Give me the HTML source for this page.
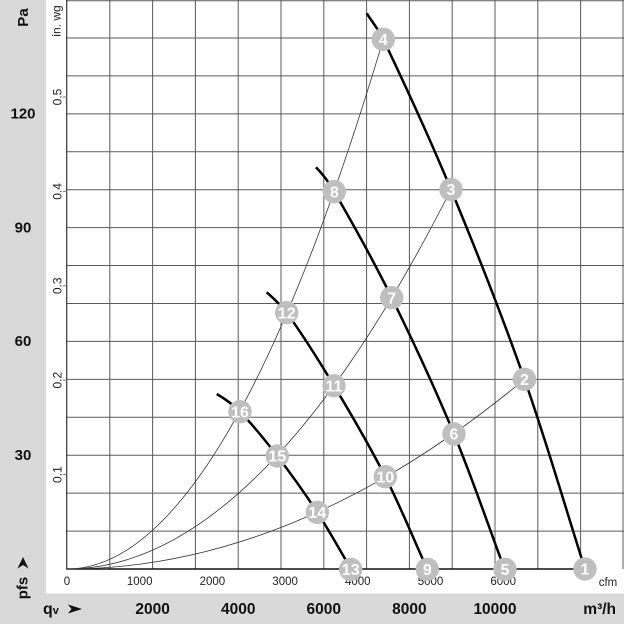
<!DOCTYPE html>
<html><head><meta charset="utf-8"><style>
html,body{margin:0;padding:0;background:#fff;}
svg{display:block;}
text{font-family:"Liberation Sans",Arial,sans-serif;}
</style></head><body>
<svg width="624" height="624" viewBox="0 0 624 624" xmlns="http://www.w3.org/2000/svg">
<rect x="0" y="0" width="624" height="624" fill="#fff"/>
<rect x="0" y="0" width="46" height="624" fill="#d9d9d9"/>
<rect x="0" y="593.5" width="624" height="30.5" fill="#d9d9d9"/>

<g stroke="#5a5a5a" stroke-width="1" fill="none">
<line x1="109.8" y1="0" x2="109.8" y2="569"/>
<line x1="152.6" y1="0" x2="152.6" y2="569"/>
<line x1="195.4" y1="0" x2="195.4" y2="569"/>
<line x1="238.2" y1="0" x2="238.2" y2="569"/>
<line x1="281" y1="0" x2="281" y2="569"/>
<line x1="323.8" y1="0" x2="323.8" y2="569"/>
<line x1="366.6" y1="0" x2="366.6" y2="569"/>
<line x1="409.4" y1="0" x2="409.4" y2="569"/>
<line x1="452.2" y1="0" x2="452.2" y2="569"/>
<line x1="495" y1="0" x2="495" y2="569"/>
<line x1="537.8" y1="0" x2="537.8" y2="569"/>
<line x1="580.6" y1="0" x2="580.6" y2="569"/>
<line x1="623" y1="0" x2="623" y2="569"/>
<line x1="67" y1="531.07" x2="624" y2="531.07"/>
<line x1="67" y1="493.14" x2="624" y2="493.14"/>
<line x1="67" y1="455.21" x2="624" y2="455.21"/>
<line x1="67" y1="417.28" x2="624" y2="417.28"/>
<line x1="67" y1="379.35" x2="624" y2="379.35"/>
<line x1="67" y1="341.42" x2="624" y2="341.42"/>
<line x1="67" y1="303.49" x2="624" y2="303.49"/>
<line x1="67" y1="265.56" x2="624" y2="265.56"/>
<line x1="67" y1="227.63" x2="624" y2="227.63"/>
<line x1="67" y1="189.7" x2="624" y2="189.7"/>
<line x1="67" y1="151.77" x2="624" y2="151.77"/>
<line x1="67" y1="113.84" x2="624" y2="113.84"/>
<line x1="67" y1="75.91" x2="624" y2="75.91"/>
<line x1="67" y1="37.98" x2="624" y2="37.98"/>
<line x1="67" y1="0.8" x2="624" y2="0.8"/>
</g>

<!-- axes -->
<line x1="66.7" y1="0" x2="66.7" y2="569.5" stroke="#333" stroke-width="1.2"/>
<line x1="66.7" y1="569" x2="581" y2="569" stroke="#111" stroke-width="1.5"/>

<!-- left ticks in. wg -->
<g stroke="#777" stroke-width="1">
<line x1="63" y1="474.6" x2="67" y2="474.6"/>
<line x1="63" y1="380.2" x2="67" y2="380.2"/>
<line x1="63" y1="285.8" x2="67" y2="285.8"/>
<line x1="63" y1="191.4" x2="67" y2="191.4"/>
<line x1="63" y1="97" x2="67" y2="97"/>
</g>
<g font-size="12" fill="#222" text-anchor="middle">
<text x="61.5" y="474.6" transform="rotate(-90 61.5 474.6)">0.1</text>
<text x="61.5" y="380.2" transform="rotate(-90 61.5 380.2)">0.2</text>
<text x="61.5" y="285.8" transform="rotate(-90 61.5 285.8)">0.3</text>
<text x="61.5" y="191.4" transform="rotate(-90 61.5 191.4)">0.4</text>
<text x="61.5" y="97" transform="rotate(-90 61.5 97)">0.5</text>
<text x="60.5" y="21" transform="rotate(-90 60.5 21)">in. wg</text>
</g>

<!-- Pa labels -->
<g font-size="15" font-weight="bold" fill="#111" text-anchor="middle">
<text x="28" y="17.5" transform="rotate(-90 28 17.5)">Pa</text>
<text x="23" y="118.5">120</text>
<text x="23" y="232.3">90</text>
<text x="23" y="346.2">60</text>
<text x="23" y="460">30</text>
<text x="27.5" y="588" transform="rotate(-90 27.5 588)">pfs</text>
</g>
<polygon points="23,557 28.5,568.5 23,565 17.5,568.5" fill="#111"/>

<!-- cfm labels -->
<g font-size="11.5" fill="#222" text-anchor="middle">
<text x="67" y="585">0</text>
<text x="139.7" y="585">1000</text>
<text x="212.4" y="585">2000</text>
<text x="285.1" y="585">3000</text>
<text x="357.8" y="585">4000</text>
<text x="430.5" y="585">5000</text>
<text x="503.2" y="585">6000</text>
<text x="608" y="586">cfm</text>
</g>

<!-- m3/h labels -->
<g font-size="15.5" font-weight="bold" fill="#111" text-anchor="middle">
<text x="152.6" y="614">2000</text>
<text x="238.2" y="614">4000</text>
<text x="323.8" y="614">6000</text>
<text x="409.4" y="614">8000</text>
<text x="495" y="614">10000</text>
<text x="616" y="614" text-anchor="end">m³/h</text>
<text x="43" y="614" text-anchor="start" font-size="16">q<tspan font-size="11">v</tspan></text>
</g>
<polygon points="82,609 68,604.5 71.5,609 68,613.5" fill="#111"/>

<!-- system curves -->
<g stroke="#333" stroke-width="0.8" fill="none">
<path d="M67,569 Q225.2,569 383.3,39.3"/>
<path d="M67,569 Q259,569 451,189.5"/>
<path d="M67,569 Q295.75,569 524.5,379.3"/>
</g>

<!-- fan curves -->
<g stroke="#000" stroke-width="2.5" fill="none" stroke-linecap="butt">
<path d="M366.7,13.3 C372.2,22 378.9,30 383.3,39.3 C407,88.9 429.9,138.8 451,189.5 C477,252.1 501.9,315.3 524.5,379.3 C546.6,441.9 564.8,505.8 585,569"/>
<path d="M316,167.3 C323.1,174.6 329.2,182.9 334.3,191.7 C354.5,226.4 373.9,261.7 391.7,297.7 C413.8,342.5 434.8,387.9 454,434 C472.4,478.4 487.7,524 504.5,569"/>
<path d="M266.7,292.3 C273.8,298.6 281.1,305 286.7,312.7 C303.7,336.2 319.1,360.9 334,385.7 C351.9,415.5 369.5,445.7 385.3,476.7 C400.6,506.8 413.2,538.2 427.2,569"/>
<path d="M216.7,394 C225.2,398.9 233.2,404.7 240,411.7 C253.5,425.5 265.5,440.7 277.3,456 C291.3,474.3 304.7,493 317.3,512.3 C329.3,530.7 339.8,550.1 351,569"/>
</g>

<!-- markers -->
<g fill="#bfbfbf">
<circle cx="585" cy="569" r="11.7"/>
<circle cx="524.5" cy="379.3" r="11.7"/>
<circle cx="451" cy="189.5" r="11.7"/>
<circle cx="383.3" cy="39.3" r="11.7"/>
<circle cx="505" cy="569.3" r="11.7"/>
<circle cx="454" cy="434" r="11.7"/>
<circle cx="391.7" cy="297.7" r="11.7"/>
<circle cx="334.3" cy="191.7" r="11.7"/>
<circle cx="427.3" cy="569.3" r="11.7"/>
<circle cx="385.3" cy="476.7" r="11.7"/>
<circle cx="334" cy="385.7" r="11.7"/>
<circle cx="286.7" cy="312.7" r="11.7"/>
<circle cx="350.7" cy="569.3" r="11.7"/>
<circle cx="317.3" cy="512.3" r="11.7"/>
<circle cx="277.3" cy="456" r="11.7"/>
<circle cx="240" cy="411.7" r="11.7"/>
</g>
<g fill="#fff" font-size="16" font-weight="bold" text-anchor="middle">
<text x="585" y="574.7">1</text>
<text x="524.5" y="385">2</text>
<text x="451" y="195.2">3</text>
<text x="383.3" y="45">4</text>
<text x="505" y="575">5</text>
<text x="454" y="439.7">6</text>
<text x="391.7" y="303.4">7</text>
<text x="334.3" y="197.4">8</text>
<text x="427.3" y="575">9</text>
<text x="385.3" y="482.4">10</text>
<text x="334" y="391.4">11</text>
<text x="286.7" y="318.4">12</text>
<text x="350.7" y="575">13</text>
<text x="317.3" y="518">14</text>
<text x="277.3" y="461.7">15</text>
<text x="240" y="417.4">16</text>
</g>
</svg>
</body></html>
